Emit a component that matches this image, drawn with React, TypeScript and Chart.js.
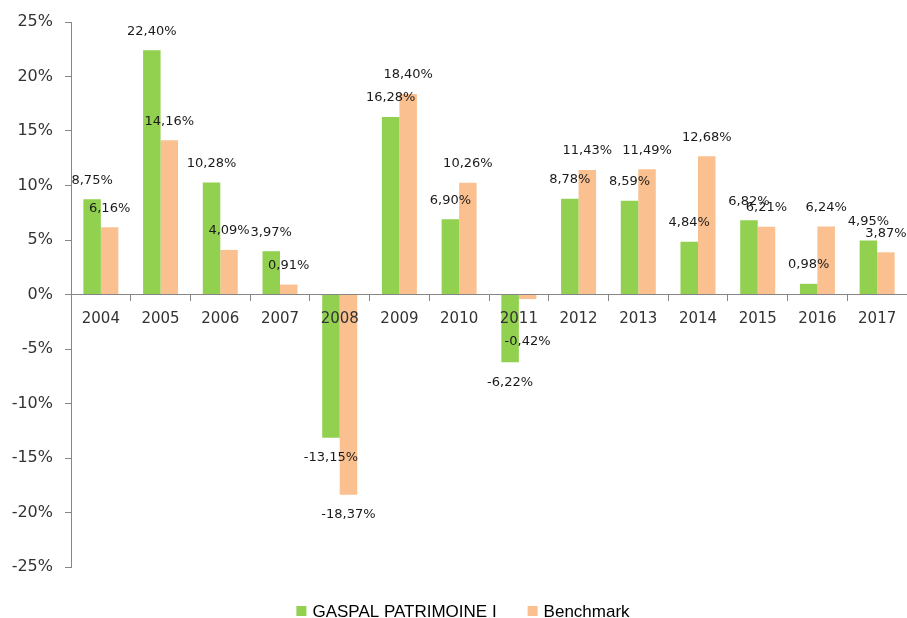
import React, { useEffect, useRef } from 'react';
import { Chart, registerables } from 'chart.js';

Chart.register(...registerables);

const categories = ['2004', '2005', '2006', '2007', '2008', '2009', '2010', '2011', '2012', '2013', '2014', '2015', '2016', '2017'];
const fundLabel = 'GASPAL PATRIMOINE I';
const benchLabel = 'Benchmark';
const fundValues = [8.75, 22.4, 10.28, 3.97, -13.15, 16.28, 6.9, -6.22, 8.78, 8.59, 4.84, 6.82, 0.98, 4.95];
const benchValues = [6.16, 14.16, 4.09, 0.91, -18.37, 18.4, 10.26, -0.42, 11.43, 11.49, 12.68, 6.21, 6.24, 3.87];
const yMin = -25;
const yMax = 25;
const yStep = 5;

const GREEN = '#92D050';
const ORANGE = '#FAC090';
const AXIS = '#868686';
const TEXT = '#333333';

const fmt = (v: number) => v.toFixed(2).replace('.', ',') + '%';

const dataLabelPlugin = {
  id: 'dataLabels',
  afterDraw(chart: any) {
    const ctx = chart.ctx;
    const zeroY = chart.scales.y.getPixelForValue(0);
    ctx.save();
    ctx.font = '13px "DejaVu Sans"';
    ctx.fillStyle = '#1a1a1a';
    ctx.textAlign = 'center';
    ctx.textBaseline = 'middle';
    chart.data.datasets.forEach((ds: any, di: number) => {
      const meta = chart.getDatasetMeta(di);
      meta.data.forEach((bar: any, i: number) => {
        const v = ds.data[i] as number;
        const y = v >= 0 ? bar.y - 19 : Math.max(bar.y + 20, zeroY + 47);
        ctx.fillText(fmt(v), bar.x, y);
      });
    });
    ctx.restore();
  },
};

const legendPlugin = {
  id: 'bottomLegend',
  afterDraw(chart: any) {
    const ctx = chart.ctx;
    ctx.save();
    ctx.font = '17px "Liberation Sans"';
    ctx.textBaseline = 'middle';
    ctx.textAlign = 'left';
    const box = 10;
    const gap = 7;
    const spacing = 30;
    const items = chart.data.datasets.map((ds: any) => ({ text: ds.label as string, color: ds.backgroundColor as string }));
    const widths = items.map((it: any) => box + gap + ctx.measureText(it.text).width);
    const total = widths.reduce((a: number, b: number) => a + b, 0) + spacing * (items.length - 1);
    let x = chart.width / 2 + 10 - total / 2;
    const y = 611;
    items.forEach((it: any, i: number) => {
      ctx.fillStyle = it.color;
      ctx.fillRect(x, y - box / 2, box, box);
      ctx.fillStyle = '#000000';
      ctx.fillText(it.text, x + box + gap - 1, y + 1);
      x += widths[i] + spacing;
    });
    ctx.restore();
  },
};

export default function App() {
  const ref = useRef<HTMLCanvasElement>(null);

  useEffect(() => {
    if (!ref.current) return;
    Chart.defaults.font.family = '"DejaVu Sans"';
    const chart = new Chart(ref.current, {
      type: 'bar',
      data: {
        labels: categories,
        datasets: [
          {
            label: fundLabel,
            data: fundValues,
            backgroundColor: GREEN,
            borderWidth: 0,
            categoryPercentage: 0.586,
            barPercentage: 1,
          },
          {
            label: benchLabel,
            data: benchValues,
            backgroundColor: ORANGE,
            borderWidth: 0,
            categoryPercentage: 0.586,
            barPercentage: 1,
          },
        ],
      },
      options: {
        animation: false,
        responsive: true,
        maintainAspectRatio: false,
        layout: { padding: { top: 22, bottom: 51, left: 0, right: 0 } },
        plugins: {
          legend: { display: false },
          tooltip: { enabled: false },
        },
        scales: {
          x: {
            position: { y: 0 } as any,
            ticks: {
              font: { family: '"DejaVu Sans"', size: 15 },
              color: TEXT,
              padding: 10,
              maxRotation: 0,
              autoSkip: false,
              z: 1,
            },
            grid: { drawOnChartArea: false, drawTicks: true, tickLength: 6, color: AXIS, offset: true, z: 1 },
            border: { color: AXIS, z: 1 },
          },
          y: {
            min: yMin,
            max: yMax,
            ticks: {
              stepSize: yStep,
              callback: (v: any) => v + '%',
              font: { family: '"DejaVu Sans"', size: 16 },
              color: TEXT,
              padding: 12,
            },
            grid: { drawOnChartArea: false, drawTicks: true, tickLength: 6, color: AXIS },
            border: { color: AXIS },
            afterFit: (s: any) => {
              s.width = 71;
            },
          },
        },
      },
      plugins: [dataLabelPlugin, legendPlugin],
    });
    return () => chart.destroy();
  }, []);

  return (
    <div style={{ position: 'fixed', left: 0, top: 0, width: 907, height: 618, background: '#ffffff' }}>
      <canvas ref={ref} />
    </div>
  );
}
